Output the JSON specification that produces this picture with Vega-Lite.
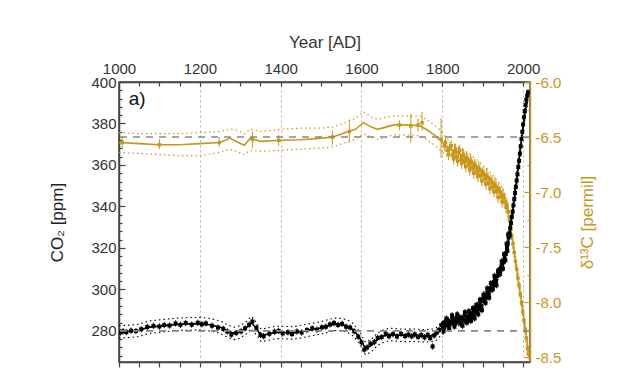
{
  "$schema": "https://vega.github.io/schema/vega-lite/v6.json",
  "width": 411,
  "height": 280,
  "autosize": "none",
  "padding": {"left": 119, "top": 82, "right": 100, "bottom": 15},
  "background": "white",
  "config": {
    "font": "Liberation Sans",
    "view": {"stroke": "#444", "strokeWidth": 1.5}
  },
  "datasets": {
    "co2fit": [
      {"year":1000,"v":279.5,"lo":276.5,"hi":282.5},{"year":1025,"v":279.8,"lo":276.8,"hi":282.8},
      {"year":1050,"v":280.3,"lo":277.3,"hi":283.3},{"year":1075,"v":281.8,"lo":278.8,"hi":284.8},
      {"year":1100,"v":282.3,"lo":279.3,"hi":285.3},{"year":1125,"v":282.8,"lo":279.8,"hi":285.8},
      {"year":1150,"v":283.2,"lo":280.2,"hi":286.2},{"year":1175,"v":283.4,"lo":280.4,"hi":286.4},
      {"year":1200,"v":283.5,"lo":280.5,"hi":286.5},{"year":1225,"v":283.0,"lo":280.0,"hi":286.0},
      {"year":1250,"v":281.8,"lo":278.8,"hi":284.8},{"year":1270,"v":279.8,"lo":276.8,"hi":282.8},
      {"year":1285,"v":278.8,"lo":275.8,"hi":281.8},{"year":1300,"v":279.5,"lo":276.5,"hi":282.5},
      {"year":1315,"v":281.5,"lo":278.5,"hi":284.5},{"year":1328,"v":284.0,"lo":281.0,"hi":287.0},
      {"year":1340,"v":281.0,"lo":278.0,"hi":284.0},{"year":1352,"v":277.8,"lo":274.8,"hi":280.8},
      {"year":1370,"v":278.5,"lo":275.5,"hi":281.5},{"year":1390,"v":279.3,"lo":276.3,"hi":282.3},
      {"year":1410,"v":279.2,"lo":276.2,"hi":282.2},{"year":1430,"v":279.0,"lo":276.0,"hi":282.0},
      {"year":1450,"v":279.6,"lo":276.6,"hi":282.6},{"year":1475,"v":280.6,"lo":277.6,"hi":283.6},
      {"year":1500,"v":281.4,"lo":278.4,"hi":284.4},{"year":1520,"v":282.6,"lo":279.6,"hi":285.6},
      {"year":1535,"v":283.2,"lo":280.2,"hi":286.2},{"year":1550,"v":283.0,"lo":280.0,"hi":286.0},
      {"year":1565,"v":282.3,"lo":279.3,"hi":285.3},{"year":1580,"v":280.5,"lo":277.5,"hi":283.5},
      {"year":1595,"v":276.8,"lo":273.8,"hi":279.8},{"year":1610,"v":271.5,"lo":268.5,"hi":274.5},
      {"year":1625,"v":273.0,"lo":270.0,"hi":276.0},{"year":1640,"v":276.0,"lo":273.0,"hi":279.0},
      {"year":1655,"v":277.5,"lo":274.5,"hi":280.5},{"year":1670,"v":278.3,"lo":275.3,"hi":281.3},
      {"year":1690,"v":278.0,"lo":275.0,"hi":281.0},{"year":1710,"v":277.8,"lo":274.8,"hi":280.8},
      {"year":1730,"v":277.9,"lo":274.9,"hi":280.9},{"year":1750,"v":277.7,"lo":274.7,"hi":280.7},
      {"year":1770,"v":277.6,"lo":274.6,"hi":280.6},{"year":1785,"v":278.5,"lo":275.5,"hi":281.5},
      {"year":1800,"v":281.5,"lo":278.5,"hi":284.5},{"year":1820,"v":284.0,"lo":281.5,"hi":286.5},
      {"year":1840,"v":285.0,"lo":282.5,"hi":287.5},{"year":1860,"v":286.0,"lo":283.5,"hi":288.5},
      {"year":1880,"v":289.0,"lo":286.5,"hi":291.5},{"year":1900,"v":295.0,"lo":292.5,"hi":297.5},
      {"year":1920,"v":300.0,"lo":297.5,"hi":302.5},{"year":1940,"v":308.0,"lo":305.5,"hi":310.5},
      {"year":1955,"v":315.5,"lo":313.0,"hi":318.0},{"year":1965,"v":325.5,"lo":323.0,"hi":328.0},
      {"year":1975,"v":339.0,"lo":336.5,"hi":341.5},{"year":1985,"v":354.5,"lo":352.0,"hi":357.0},
      {"year":1995,"v":371.0,"lo":368.5,"hi":373.5},{"year":2005,"v":385.5,"lo":383.0,"hi":388.0},
      {"year":2012,"v":394.5,"lo":392.0,"hi":397.0}
    ],
    "co2pts": [
      {"year":1004,"v":279.3,"lo":277.8,"hi":280.8},{"year":1010,"v":279.8,"lo":278.3,"hi":281.3},
      {"year":1018,"v":279.4,"lo":277.9,"hi":280.9},{"year":1030,"v":280.1,"lo":278.6,"hi":281.6},
      {"year":1042,"v":279.9,"lo":278.4,"hi":281.4},{"year":1055,"v":280.8,"lo":279.3,"hi":282.3},
      {"year":1070,"v":281.9,"lo":280.4,"hi":283.4},{"year":1085,"v":282.4,"lo":280.9,"hi":283.9},
      {"year":1100,"v":282.1,"lo":280.6,"hi":283.6},{"year":1112,"v":282.8,"lo":281.3,"hi":284.3},
      {"year":1125,"v":282.6,"lo":281.1,"hi":284.1},{"year":1140,"v":283.6,"lo":282.1,"hi":285.1},
      {"year":1152,"v":282.9,"lo":281.4,"hi":284.4},{"year":1165,"v":283.8,"lo":282.3,"hi":285.3},
      {"year":1180,"v":283.0,"lo":281.5,"hi":284.5},{"year":1195,"v":283.9,"lo":282.4,"hi":285.4},
      {"year":1205,"v":283.2,"lo":281.7,"hi":284.7},{"year":1215,"v":283.6,"lo":282.1,"hi":285.1},
      {"year":1230,"v":282.5,"lo":281.0,"hi":284.0},{"year":1245,"v":281.6,"lo":280.1,"hi":283.1},
      {"year":1258,"v":281.0,"lo":279.5,"hi":282.5},{"year":1268,"v":279.7,"lo":278.2,"hi":281.2},
      {"year":1278,"v":278.2,"lo":276.7,"hi":279.7},{"year":1290,"v":279.0,"lo":277.5,"hi":280.5},
      {"year":1302,"v":279.8,"lo":278.3,"hi":281.3},{"year":1312,"v":281.2,"lo":279.7,"hi":282.7},
      {"year":1322,"v":283.0,"lo":281.5,"hi":284.5},{"year":1330,"v":284.5,"lo":283.0,"hi":286.0},
      {"year":1340,"v":281.5,"lo":280.0,"hi":283.0},{"year":1350,"v":278.0,"lo":276.5,"hi":279.5},
      {"year":1358,"v":277.4,"lo":275.9,"hi":278.9},{"year":1372,"v":278.6,"lo":277.1,"hi":280.1},
      {"year":1385,"v":279.6,"lo":278.1,"hi":281.1},{"year":1395,"v":280.0,"lo":278.5,"hi":281.5},
      {"year":1405,"v":278.8,"lo":277.3,"hi":280.3},{"year":1418,"v":279.3,"lo":277.8,"hi":280.8},
      {"year":1428,"v":278.5,"lo":277.0,"hi":280.0},{"year":1440,"v":279.7,"lo":278.2,"hi":281.2},
      {"year":1452,"v":279.2,"lo":277.7,"hi":280.7},{"year":1465,"v":280.4,"lo":278.9,"hi":281.9},
      {"year":1478,"v":281.2,"lo":279.7,"hi":282.7},{"year":1490,"v":280.6,"lo":279.1,"hi":282.1},
      {"year":1502,"v":281.7,"lo":280.2,"hi":283.2},{"year":1512,"v":282.0,"lo":280.5,"hi":283.5},
      {"year":1522,"v":283.1,"lo":281.6,"hi":284.6},{"year":1532,"v":283.8,"lo":282.3,"hi":285.3},
      {"year":1542,"v":282.9,"lo":281.4,"hi":284.4},{"year":1552,"v":283.4,"lo":281.9,"hi":284.9},
      {"year":1562,"v":282.0,"lo":280.5,"hi":283.5},{"year":1572,"v":281.6,"lo":280.1,"hi":283.1},
      {"year":1582,"v":279.8,"lo":278.3,"hi":281.3},{"year":1592,"v":277.2,"lo":275.7,"hi":278.7},
      {"year":1600,"v":274.5,"lo":273.0,"hi":276.0},{"year":1607,"v":271.0,"lo":269.5,"hi":272.5},
      {"year":1614,"v":272.0,"lo":270.5,"hi":273.5},{"year":1622,"v":273.8,"lo":272.3,"hi":275.3},
      {"year":1632,"v":274.6,"lo":273.1,"hi":276.1},{"year":1640,"v":276.6,"lo":275.1,"hi":278.1},
      {"year":1650,"v":277.0,"lo":275.5,"hi":278.5},{"year":1660,"v":278.6,"lo":277.1,"hi":280.1},
      {"year":1668,"v":277.4,"lo":275.9,"hi":278.9},{"year":1678,"v":278.4,"lo":276.9,"hi":279.9},
      {"year":1688,"v":277.3,"lo":275.8,"hi":278.8},{"year":1698,"v":278.6,"lo":277.1,"hi":280.1},
      {"year":1708,"v":277.5,"lo":276.0,"hi":279.0},{"year":1716,"v":278.2,"lo":276.7,"hi":279.7},
      {"year":1724,"v":277.4,"lo":275.9,"hi":278.9},{"year":1732,"v":278.3,"lo":276.8,"hi":279.8},
      {"year":1740,"v":277.1,"lo":275.6,"hi":278.6},{"year":1748,"v":278.0,"lo":276.5,"hi":279.5},
      {"year":1756,"v":276.9,"lo":275.4,"hi":278.4},{"year":1764,"v":278.1,"lo":276.6,"hi":279.6},
      {"year":1770,"v":276.5,"lo":275.0,"hi":278.0},{"year":1776,"v":272.5,"lo":271.0,"hi":274.0},
      {"year":1780,"v":277.8,"lo":276.3,"hi":279.3},{"year":1786,"v":279.2,"lo":277.7,"hi":280.7},
      {"year":1792,"v":280.5,"lo":279.0,"hi":282.0},{"year":1798,"v":282.8,"lo":281.3,"hi":284.3},
      {"year":1802,"v":283.5,"lo":282.0,"hi":285.0},{"year":1803,"v":279.8,"lo":278.3,"hi":281.3},
      {"year":1805,"v":281.5,"lo":280.0,"hi":283.0},{"year":1808,"v":284.5,"lo":283.0,"hi":286.0},
      {"year":1810,"v":286.0,"lo":284.5,"hi":287.5},{"year":1812,"v":282.8,"lo":281.3,"hi":284.3},
      {"year":1815,"v":285.0,"lo":283.5,"hi":286.5},{"year":1817,"v":281.0,"lo":279.5,"hi":282.5},
      {"year":1818,"v":283.0,"lo":281.5,"hi":284.5},{"year":1822,"v":284.2,"lo":282.7,"hi":285.7},
      {"year":1824,"v":287.5,"lo":286.0,"hi":289.0},{"year":1825,"v":286.0,"lo":284.5,"hi":287.5},
      {"year":1828,"v":283.5,"lo":282.0,"hi":285.0},{"year":1830,"v":282.0,"lo":280.5,"hi":283.5},
      {"year":1832,"v":285.5,"lo":284.0,"hi":287.0},{"year":1835,"v":284.0,"lo":282.5,"hi":285.5},
      {"year":1837,"v":288.0,"lo":286.5,"hi":289.5},{"year":1838,"v":286.5,"lo":285.0,"hi":288.0},
      {"year":1842,"v":284.8,"lo":283.3,"hi":286.3},{"year":1843,"v":286.5,"lo":285.0,"hi":288.0},
      {"year":1845,"v":283.5,"lo":282.0,"hi":285.0},{"year":1848,"v":286.2,"lo":284.7,"hi":287.7},
      {"year":1850,"v":282.5,"lo":281.0,"hi":284.0},{"year":1852,"v":285.0,"lo":283.5,"hi":286.5},
      {"year":1855,"v":287.5,"lo":286.0,"hi":289.0},{"year":1856,"v":289.0,"lo":287.5,"hi":290.5},
      {"year":1858,"v":284.5,"lo":283.0,"hi":286.0},{"year":1861,"v":284.0,"lo":282.5,"hi":285.5},
      {"year":1862,"v":286.8,"lo":285.3,"hi":288.3},{"year":1865,"v":285.3,"lo":283.8,"hi":286.8},
      {"year":1866,"v":289.5,"lo":288.0,"hi":291.0},{"year":1868,"v":288.0,"lo":286.5,"hi":289.5},
      {"year":1871,"v":284.8,"lo":283.3,"hi":286.3},{"year":1872,"v":286.5,"lo":285.0,"hi":288.0},
      {"year":1875,"v":288.8,"lo":287.3,"hi":290.3},{"year":1876,"v":291.0,"lo":289.5,"hi":292.5},
      {"year":1878,"v":287.2,"lo":285.7,"hi":288.7},{"year":1880,"v":286.0,"lo":284.5,"hi":287.5},
      {"year":1882,"v":290.0,"lo":288.5,"hi":291.5},{"year":1884,"v":292.5,"lo":291.0,"hi":294.0},
      {"year":1885,"v":289.0,"lo":287.5,"hi":290.5},{"year":1888,"v":291.5,"lo":290.0,"hi":293.0},
      {"year":1889,"v":288.0,"lo":286.5,"hi":289.5},{"year":1891,"v":290.5,"lo":289.0,"hi":292.0},
      {"year":1893,"v":295.0,"lo":293.5,"hi":296.5},{"year":1894,"v":293.0,"lo":291.5,"hi":294.5},
      {"year":1897,"v":292.0,"lo":290.5,"hi":293.5},{"year":1898,"v":290.0,"lo":288.5,"hi":291.5},
      {"year":1900,"v":295.5,"lo":294.0,"hi":297.0},{"year":1902,"v":297.5,"lo":296.0,"hi":299.0},
      {"year":1903,"v":294.5,"lo":293.0,"hi":296.0},{"year":1906,"v":297.0,"lo":295.5,"hi":298.5},
      {"year":1907,"v":293.5,"lo":292.0,"hi":295.0},{"year":1909,"v":296.0,"lo":294.5,"hi":297.5},
      {"year":1911,"v":300.5,"lo":299.0,"hi":302.0},{"year":1912,"v":298.5,"lo":297.0,"hi":300.0},
      {"year":1915,"v":298.0,"lo":296.5,"hi":299.5},{"year":1916,"v":296.0,"lo":294.5,"hi":297.5},
      {"year":1918,"v":300.5,"lo":299.0,"hi":302.0},{"year":1920,"v":303.0,"lo":301.5,"hi":304.5},
      {"year":1921,"v":300.0,"lo":298.5,"hi":301.5},{"year":1924,"v":302.5,"lo":301.0,"hi":304.0},
      {"year":1925,"v":300.0,"lo":298.5,"hi":301.5},{"year":1927,"v":302.0,"lo":300.5,"hi":303.5},
      {"year":1929,"v":306.5,"lo":305.0,"hi":308.0},{"year":1930,"v":304.5,"lo":303.0,"hi":306.0},
      {"year":1933,"v":304.0,"lo":302.5,"hi":305.5},{"year":1934,"v":302.0,"lo":300.5,"hi":303.5},
      {"year":1936,"v":306.5,"lo":305.0,"hi":308.0},{"year":1938,"v":309.0,"lo":307.5,"hi":310.5},
      {"year":1939,"v":307.0,"lo":305.5,"hi":308.5},{"year":1942,"v":309.5,"lo":308.0,"hi":311.0},
      {"year":1943,"v":307.5,"lo":306.0,"hi":309.0},{"year":1945,"v":310.5,"lo":309.0,"hi":312.0},
      {"year":1947,"v":313.5,"lo":312.0,"hi":315.0},{"year":1948,"v":311.5,"lo":310.0,"hi":313.0},
      {"year":1950,"v":310.0,"lo":308.5,"hi":311.5},{"year":1951,"v":313.0,"lo":311.5,"hi":314.5},
      {"year":1953,"v":317.0,"lo":315.5,"hi":318.5},{"year":1954,"v":315.0,"lo":313.5,"hi":316.5},
      {"year":1956,"v":314.0,"lo":312.5,"hi":315.5},{"year":1957,"v":317.0,"lo":315.5,"hi":318.5},
      {"year":1959,"v":322.0,"lo":320.5,"hi":323.5},{"year":1960,"v":320.0,"lo":318.5,"hi":321.5},
      {"year":1961,"v":318.5,"lo":317.0,"hi":320.0},{"year":1962,"v":322.0,"lo":320.5,"hi":323.5},
      {"year":1963,"v":326.5,"lo":325.0,"hi":328.0},{"year":1964,"v":325.0,"lo":323.5,"hi":326.5},
      {"year":1966,"v":327.0,"lo":325.5,"hi":328.5},{"year":1967,"v":326.0,"lo":324.5,"hi":327.5},
      {"year":1968,"v":329.5,"lo":328.0,"hi":331.0},{"year":1970,"v":332.0,"lo":330.5,"hi":333.5},
      {"year":1972,"v":335.0,"lo":333.5,"hi":336.5},{"year":1974,"v":337.5,"lo":336.0,"hi":339.0},
      {"year":1976,"v":340.5,"lo":339.0,"hi":342.0},{"year":1978,"v":343.5,"lo":342.0,"hi":345.0},
      {"year":1980,"v":346.5,"lo":345.0,"hi":348.0},{"year":1982,"v":349.5,"lo":348.0,"hi":351.0},
      {"year":1984,"v":352.5,"lo":351.0,"hi":354.0},{"year":1986,"v":355.5,"lo":354.0,"hi":357.0},
      {"year":1988,"v":359.0,"lo":357.5,"hi":360.5},{"year":1990,"v":362.0,"lo":360.5,"hi":363.5},
      {"year":1992,"v":365.5,"lo":364.0,"hi":367.0},{"year":1994,"v":369.0,"lo":367.5,"hi":370.5},
      {"year":1996,"v":372.5,"lo":371.0,"hi":374.0},{"year":1998,"v":376.0,"lo":374.5,"hi":377.5},
      {"year":2000,"v":379.5,"lo":378.0,"hi":381.0},{"year":2002,"v":383.0,"lo":381.5,"hi":384.5},
      {"year":2004,"v":386.0,"lo":384.5,"hi":387.5},{"year":2006,"v":389.0,"lo":387.5,"hi":390.5},
      {"year":2008,"v":391.5,"lo":390.0,"hi":393.0},{"year":2010,"v":393.5,"lo":392.0,"hi":395.0},
      {"year":2012,"v":395.0,"lo":393.5,"hi":396.5}
    ],
    "d13fit": [
      {"year":1000,"v":-6.55,"lo":-6.64,"hi":-6.46},{"year":1050,"v":-6.56,"lo":-6.65,"hi":-6.47},
      {"year":1100,"v":-6.57,"lo":-6.66,"hi":-6.47},{"year":1150,"v":-6.57,"lo":-6.67,"hi":-6.47},
      {"year":1200,"v":-6.56,"lo":-6.67,"hi":-6.46},{"year":1250,"v":-6.55,"lo":-6.64,"hi":-6.45},
      {"year":1275,"v":-6.51,"lo":-6.61,"hi":-6.43},{"year":1295,"v":-6.55,"lo":-6.64,"hi":-6.44},
      {"year":1310,"v":-6.575,"lo":-6.66,"hi":-6.47},{"year":1325,"v":-6.51,"lo":-6.62,"hi":-6.43},
      {"year":1350,"v":-6.54,"lo":-6.63,"hi":-6.45},{"year":1400,"v":-6.53,"lo":-6.62,"hi":-6.43},
      {"year":1450,"v":-6.525,"lo":-6.61,"hi":-6.42},{"year":1500,"v":-6.51,"lo":-6.60,"hi":-6.42},
      {"year":1530,"v":-6.50,"lo":-6.59,"hi":-6.41},{"year":1560,"v":-6.46,"lo":-6.55,"hi":-6.37},
      {"year":1585,"v":-6.43,"lo":-6.52,"hi":-6.33},{"year":1605,"v":-6.37,"lo":-6.47,"hi":-6.27},
      {"year":1625,"v":-6.41,"lo":-6.50,"hi":-6.32},{"year":1640,"v":-6.43,"lo":-6.52,"hi":-6.34},
      {"year":1660,"v":-6.41,"lo":-6.50,"hi":-6.32},{"year":1680,"v":-6.39,"lo":-6.48,"hi":-6.31},
      {"year":1720,"v":-6.39,"lo":-6.48,"hi":-6.31},{"year":1745,"v":-6.40,"lo":-6.49,"hi":-6.31},
      {"year":1760,"v":-6.43,"lo":-6.52,"hi":-6.34},{"year":1780,"v":-6.48,"lo":-6.57,"hi":-6.39},
      {"year":1795,"v":-6.53,"lo":-6.62,"hi":-6.44},{"year":1810,"v":-6.59,"lo":-6.67,"hi":-6.51},
      {"year":1830,"v":-6.63,"lo":-6.69,"hi":-6.57},{"year":1850,"v":-6.67,"lo":-6.73,"hi":-6.61},
      {"year":1870,"v":-6.72,"lo":-6.78,"hi":-6.66},{"year":1890,"v":-6.78,"lo":-6.84,"hi":-6.72},
      {"year":1910,"v":-6.85,"lo":-6.91,"hi":-6.79},{"year":1930,"v":-6.93,"lo":-6.99,"hi":-6.87},
      {"year":1950,"v":-7.03,"lo":-7.09,"hi":-6.97},{"year":1960,"v":-7.12,"lo":-7.18,"hi":-7.06},
      {"year":1970,"v":-7.35,"lo":-7.40,"hi":-7.30},{"year":1980,"v":-7.60,"lo":-7.65,"hi":-7.55},
      {"year":1990,"v":-7.85,"lo":-7.90,"hi":-7.80},{"year":2000,"v":-8.10,"lo":-8.15,"hi":-8.05},
      {"year":2010,"v":-8.38,"lo":-8.43,"hi":-8.33},{"year":2013,"v":-8.47,"lo":-8.52,"hi":-8.42}
    ],
    "d13pts": [
      {"year":1008,"v":-6.55,"lo":-6.60,"hi":-6.50},{"year":1100,"v":-6.57,"lo":-6.61,"hi":-6.52},
      {"year":1248,"v":-6.55,"lo":-6.59,"hi":-6.50},{"year":1330,"v":-6.52,"lo":-6.60,"hi":-6.45},
      {"year":1395,"v":-6.53,"lo":-6.58,"hi":-6.48},{"year":1528,"v":-6.50,"lo":-6.57,"hi":-6.44},
      {"year":1570,"v":-6.45,"lo":-6.55,"hi":-6.34},{"year":1694,"v":-6.39,"lo":-6.44,"hi":-6.35},
      {"year":1722,"v":-6.40,"lo":-6.55,"hi":-6.29},{"year":1740,"v":-6.39,"lo":-6.45,"hi":-6.33},
      {"year":1750,"v":-6.37,"lo":-6.44,"hi":-6.27},{"year":1797,"v":-6.52,"lo":-6.69,"hi":-6.33},
      {"year":1805,"v":-6.58,"lo":-6.63,"hi":-6.53},{"year":1808,"v":-6.55,"lo":-6.60,"hi":-6.50},
      {"year":1812,"v":-6.62,"lo":-6.67,"hi":-6.57},{"year":1815,"v":-6.66,"lo":-6.71,"hi":-6.61},
      {"year":1818,"v":-6.60,"lo":-6.65,"hi":-6.55},{"year":1822,"v":-6.58,"lo":-6.63,"hi":-6.53},
      {"year":1825,"v":-6.66,"lo":-6.71,"hi":-6.61},{"year":1828,"v":-6.70,"lo":-6.75,"hi":-6.65},
      {"year":1830,"v":-6.63,"lo":-6.70,"hi":-6.56},{"year":1833,"v":-6.61,"lo":-6.66,"hi":-6.56},
      {"year":1835,"v":-6.68,"lo":-6.73,"hi":-6.63},{"year":1838,"v":-6.72,"lo":-6.77,"hi":-6.67},
      {"year":1840,"v":-6.64,"lo":-6.69,"hi":-6.59},{"year":1843,"v":-6.62,"lo":-6.67,"hi":-6.57},
      {"year":1845,"v":-6.70,"lo":-6.75,"hi":-6.65},{"year":1848,"v":-6.74,"lo":-6.79,"hi":-6.69},
      {"year":1850,"v":-6.67,"lo":-6.74,"hi":-6.60},{"year":1853,"v":-6.66,"lo":-6.71,"hi":-6.61},
      {"year":1855,"v":-6.72,"lo":-6.77,"hi":-6.67},{"year":1858,"v":-6.77,"lo":-6.82,"hi":-6.72},
      {"year":1860,"v":-6.69,"lo":-6.74,"hi":-6.64},{"year":1863,"v":-6.70,"lo":-6.75,"hi":-6.65},
      {"year":1865,"v":-6.75,"lo":-6.80,"hi":-6.70},{"year":1868,"v":-6.80,"lo":-6.85,"hi":-6.75},
      {"year":1870,"v":-6.72,"lo":-6.79,"hi":-6.65},{"year":1873,"v":-6.73,"lo":-6.78,"hi":-6.68},
      {"year":1875,"v":-6.78,"lo":-6.83,"hi":-6.73},{"year":1878,"v":-6.83,"lo":-6.88,"hi":-6.78},
      {"year":1880,"v":-6.75,"lo":-6.80,"hi":-6.70},{"year":1883,"v":-6.77,"lo":-6.82,"hi":-6.72},
      {"year":1885,"v":-6.82,"lo":-6.87,"hi":-6.77},{"year":1888,"v":-6.86,"lo":-6.91,"hi":-6.81},
      {"year":1890,"v":-6.79,"lo":-6.86,"hi":-6.72},{"year":1893,"v":-6.80,"lo":-6.85,"hi":-6.75},
      {"year":1895,"v":-6.85,"lo":-6.90,"hi":-6.80},{"year":1898,"v":-6.90,"lo":-6.95,"hi":-6.85},
      {"year":1900,"v":-6.82,"lo":-6.87,"hi":-6.77},{"year":1903,"v":-6.84,"lo":-6.89,"hi":-6.79},
      {"year":1905,"v":-6.88,"lo":-6.93,"hi":-6.83},{"year":1908,"v":-6.93,"lo":-6.98,"hi":-6.88},
      {"year":1910,"v":-6.85,"lo":-6.92,"hi":-6.78},{"year":1913,"v":-6.87,"lo":-6.92,"hi":-6.82},
      {"year":1915,"v":-6.92,"lo":-6.97,"hi":-6.87},{"year":1918,"v":-6.97,"lo":-7.02,"hi":-6.92},
      {"year":1920,"v":-6.89,"lo":-6.94,"hi":-6.84},{"year":1923,"v":-6.91,"lo":-6.96,"hi":-6.86},
      {"year":1925,"v":-6.95,"lo":-7.00,"hi":-6.90},{"year":1928,"v":-7.00,"lo":-7.05,"hi":-6.95},
      {"year":1930,"v":-6.93,"lo":-7.00,"hi":-6.86},{"year":1933,"v":-6.95,"lo":-7.00,"hi":-6.90},
      {"year":1935,"v":-6.99,"lo":-7.04,"hi":-6.94},{"year":1938,"v":-7.05,"lo":-7.10,"hi":-7.00},
      {"year":1940,"v":-6.97,"lo":-7.02,"hi":-6.92},{"year":1943,"v":-7.00,"lo":-7.05,"hi":-6.95},
      {"year":1945,"v":-7.04,"lo":-7.09,"hi":-6.99},{"year":1948,"v":-7.09,"lo":-7.14,"hi":-7.04},
      {"year":1950,"v":-7.03,"lo":-7.10,"hi":-6.96},{"year":1953,"v":-7.05,"lo":-7.10,"hi":-7.00},
      {"year":1955,"v":-7.09,"lo":-7.14,"hi":-7.04},{"year":1958,"v":-7.14,"lo":-7.19,"hi":-7.09},
      {"year":1960,"v":-7.12,"lo":-7.17,"hi":-7.07},{"year":1963,"v":-7.18,"lo":-7.21,"hi":-7.15},
      {"year":1966,"v":-7.25,"lo":-7.28,"hi":-7.22},{"year":1969,"v":-7.32,"lo":-7.35,"hi":-7.29},
      {"year":1972,"v":-7.40,"lo":-7.43,"hi":-7.37},{"year":1975,"v":-7.47,"lo":-7.50,"hi":-7.44},
      {"year":1978,"v":-7.55,"lo":-7.58,"hi":-7.52},{"year":1981,"v":-7.63,"lo":-7.66,"hi":-7.60},
      {"year":1984,"v":-7.70,"lo":-7.73,"hi":-7.67},{"year":1987,"v":-7.78,"lo":-7.81,"hi":-7.75},
      {"year":1990,"v":-7.85,"lo":-7.88,"hi":-7.82},{"year":1993,"v":-7.93,"lo":-7.96,"hi":-7.90},
      {"year":1996,"v":-8.01,"lo":-8.04,"hi":-7.98},{"year":1999,"v":-8.09,"lo":-8.12,"hi":-8.06},
      {"year":2002,"v":-8.17,"lo":-8.20,"hi":-8.14},{"year":2005,"v":-8.25,"lo":-8.28,"hi":-8.22},
      {"year":2008,"v":-8.33,"lo":-8.36,"hi":-8.30},{"year":2011,"v":-8.42,"lo":-8.45,"hi":-8.39},
      {"year":2013,"v":-8.47,"lo":-8.50,"hi":-8.44}
    ],
    "refs": [{"co2": 280, "d13": -6.5}],
    "lbl": [{"year": 1024, "co2": 389, "text": "a)"}]
  },
  "resolve": {
    "scale": {"x": "independent", "y": "independent"},
    "axis": {"x": "independent", "y": "independent"}
  },
  "layer": [
    {
      "data": {"name": "d13fit"},
      "mark": {"type": "line", "color": "#C9961A", "strokeWidth": 1.6, "clip": true},
      "encoding": {
        "x": {"field": "year", "type": "quantitative", "scale": {"domain": [1000, 2017], "nice": false, "zero": false}, "axis": null},
        "y": {"field": "v", "type": "quantitative", "scale": {"domain": [-8.545, -6.0], "nice": false, "zero": false},
          "axis": {"orient": "right", "values": [-8.5, -8, -7.5, -7, -6.5, -6], "labelExpr": "replace(format(datum.value, '.1f'), '\u2212', '-')",
            "title": "δ¹³C [permil]", "titleAngle": -90, "titleFontSize": 17, "titleFontWeight": "normal", "titleColor": "#C9961A", "titlePadding": 36,
            "labelFontSize": 15, "labelColor": "#C9961A", "labelPadding": 11, "labelFlush": false, "labelOverlap": false,
            "tickSize": -6, "tickColor": "#C9961A", "tickWidth": 1.2, "domainColor": "#C9961A", "domainWidth": 1.5, "grid": false}}
      }
    },
    {
      "data": {"name": "d13fit"},
      "mark": {"type": "line", "color": "#C9961A", "strokeWidth": 1.2, "strokeDash": [1.5, 3], "clip": true},
      "encoding": {
        "x": {"field": "year", "type": "quantitative", "scale": {"domain": [1000, 2017], "nice": false, "zero": false}, "axis": null},
        "y": {"field": "lo", "type": "quantitative", "scale": {"domain": [-8.545, -6.0], "nice": false, "zero": false},
          "axis": {"orient": "right", "values": [-8.25, -7.75, -7.25, -6.75, -6.25], "labels": false, "title": null, "domain": false, "grid": false,
            "tickSize": -3, "tickColor": "#C9961A", "tickWidth": 1.2}}
      }
    },
    {
      "data": {"name": "d13fit"},
      "mark": {"type": "line", "color": "#C9961A", "strokeWidth": 1.2, "strokeDash": [1.5, 3], "clip": true},
      "encoding": {
        "x": {"field": "year", "type": "quantitative", "scale": {"domain": [1000, 2017], "nice": false, "zero": false}, "axis": null},
        "y": {"field": "hi", "type": "quantitative", "scale": {"domain": [-8.545, -6.0], "nice": false, "zero": false}, "axis": null}
      }
    },
    {
      "data": {"name": "d13pts"},
      "mark": {"type": "rule", "color": "#C9961A", "strokeWidth": 1, "clip": true},
      "encoding": {
        "x": {"field": "year", "type": "quantitative", "scale": {"domain": [1000, 2017], "nice": false, "zero": false}, "axis": null},
        "y": {"field": "lo", "type": "quantitative", "scale": {"domain": [-8.545, -6.0], "nice": false, "zero": false}, "axis": null},
        "y2": {"field": "hi"}
      }
    },
    {
      "data": {"name": "d13pts"},
      "mark": {"type": "point", "shape": "square", "filled": true, "color": "#C9961A", "size": 12, "opacity": 1, "clip": true},
      "encoding": {
        "x": {"field": "year", "type": "quantitative", "scale": {"domain": [1000, 2017], "nice": false, "zero": false}, "axis": null},
        "y": {"field": "v", "type": "quantitative", "scale": {"domain": [-8.545, -6.0], "nice": false, "zero": false}, "axis": null}
      }
    },
    {
      "data": {"name": "co2fit"},
      "mark": {"type": "line", "color": "#000", "strokeWidth": 1.6, "clip": true},
      "encoding": {
        "x": {"field": "year", "type": "quantitative", "scale": {"domain": [1000, 2017], "nice": false, "zero": false},
          "axis": {"orient": "top", "values": [1000, 1200, 1400, 1600, 1800, 2000], "format": "d", "title": "Year [AD]",
            "titleFontSize": 17, "titleFontWeight": "normal", "titleColor": "#333", "titlePadding": 10,
            "labelFontSize": 15, "labelColor": "#333", "labelPadding": 10, "labelFlush": false, "labelOverlap": false,
            "tickSize": -4, "tickColor": "#444", "tickWidth": 1.2, "domainColor": "#444", "domainWidth": 1.5,
            "grid": true, "gridColor": "#b0b0b0", "gridDash": [2, 3], "gridWidth": 1}},
        "y": {"field": "v", "type": "quantitative", "scale": {"domain": [265, 400], "nice": false, "zero": false},
          "axis": {"orient": "left", "values": [280, 300, 320, 340, 360, 380, 400], "format": "d", "title": "CO₂ [ppm]",
            "titleFontSize": 17, "titleFontWeight": "normal", "titleColor": "#222", "titlePadding": 24,
            "labelFontSize": 15, "labelColor": "#333", "labelPadding": 9, "labelFlush": false, "labelOverlap": false,
            "tickSize": -6, "tickColor": "#444", "tickWidth": 1.2, "domainColor": "#444", "domainWidth": 1.5, "grid": false}}
      }
    },
    {
      "data": {"name": "co2fit"},
      "mark": {"type": "line", "color": "#000", "strokeWidth": 1.1, "strokeDash": [1.5, 3], "clip": true},
      "encoding": {
        "x": {"field": "year", "type": "quantitative", "scale": {"domain": [1000, 2017], "nice": false, "zero": false},
          "axis": {"orient": "top", "values": [1050, 1100, 1150, 1250, 1300, 1350, 1450, 1500, 1550, 1650, 1700, 1750, 1850, 1900, 1950],
            "labels": false, "title": null, "domain": false, "grid": false, "tickSize": -4, "tickColor": "#444", "tickWidth": 1.2}},
        "y": {"field": "lo", "type": "quantitative", "scale": {"domain": [265, 400], "nice": false, "zero": false},
          "axis": {"orient": "left", "values": [268, 272, 276, 284, 288, 292, 296, 304, 308, 312, 316, 324, 328, 332, 336, 344, 348, 352, 356, 364, 368, 372, 376, 384, 388, 392, 396],
            "labels": false, "title": null, "domain": false, "grid": false, "tickSize": -3, "tickColor": "#444", "tickWidth": 1.2}}
      }
    },
    {
      "data": {"name": "co2fit"},
      "mark": {"type": "line", "color": "#000", "strokeWidth": 1.1, "strokeDash": [1.5, 3], "clip": true},
      "encoding": {
        "x": {"field": "year", "type": "quantitative", "scale": {"domain": [1000, 2017], "nice": false, "zero": false},
          "axis": {"orient": "bottom", "values": [1000, 1050, 1100, 1150, 1200, 1250, 1300, 1350, 1400, 1450, 1500, 1550, 1600, 1650, 1700, 1750, 1800, 1850, 1900, 1950, 2000],
            "labels": false, "title": null, "domainColor": "#444", "domainWidth": 1.5, "grid": false, "tickSize": 5, "tickColor": "#444", "tickWidth": 1.2}},
        "y": {"field": "hi", "type": "quantitative", "scale": {"domain": [265, 400], "nice": false, "zero": false}, "axis": null}
      }
    },
    {
      "data": {"name": "co2pts"},
      "mark": {"type": "rule", "color": "#000", "strokeWidth": 1, "clip": true},
      "encoding": {
        "x": {"field": "year", "type": "quantitative", "scale": {"domain": [1000, 2017], "nice": false, "zero": false}, "axis": null},
        "y": {"field": "lo", "type": "quantitative", "scale": {"domain": [265, 400], "nice": false, "zero": false}, "axis": null},
        "y2": {"field": "hi"}
      }
    },
    {
      "data": {"name": "co2pts"},
      "mark": {"type": "point", "shape": "square", "filled": true, "color": "#000", "size": 16, "opacity": 1, "clip": true},
      "encoding": {
        "x": {"field": "year", "type": "quantitative", "scale": {"domain": [1000, 2017], "nice": false, "zero": false}, "axis": null},
        "y": {"field": "v", "type": "quantitative", "scale": {"domain": [265, 400], "nice": false, "zero": false}, "axis": null}
      }
    },
    {
      "data": {"name": "refs"},
      "mark": {"type": "rule", "color": "#888", "strokeWidth": 1.6, "strokeDash": [7, 6]},
      "encoding": {
        "y": {"field": "co2", "type": "quantitative", "scale": {"domain": [265, 400], "nice": false, "zero": false}, "axis": null}
      }
    },
    {
      "data": {"name": "refs"},
      "mark": {"type": "rule", "color": "#888", "strokeWidth": 1.6, "strokeDash": [7, 6]},
      "encoding": {
        "y": {"field": "d13", "type": "quantitative", "scale": {"domain": [-8.545, -6.0], "nice": false, "zero": false}, "axis": null}
      }
    },
    {
      "data": {"name": "lbl"},
      "mark": {"type": "text", "align": "left", "baseline": "alphabetic", "fontSize": 19, "color": "#111"},
      "encoding": {
        "x": {"field": "year", "type": "quantitative", "scale": {"domain": [1000, 2017], "nice": false, "zero": false}, "axis": null},
        "y": {"field": "co2", "type": "quantitative", "scale": {"domain": [265, 400], "nice": false, "zero": false}, "axis": null},
        "text": {"field": "text"}
      }
    }
  ]
}
